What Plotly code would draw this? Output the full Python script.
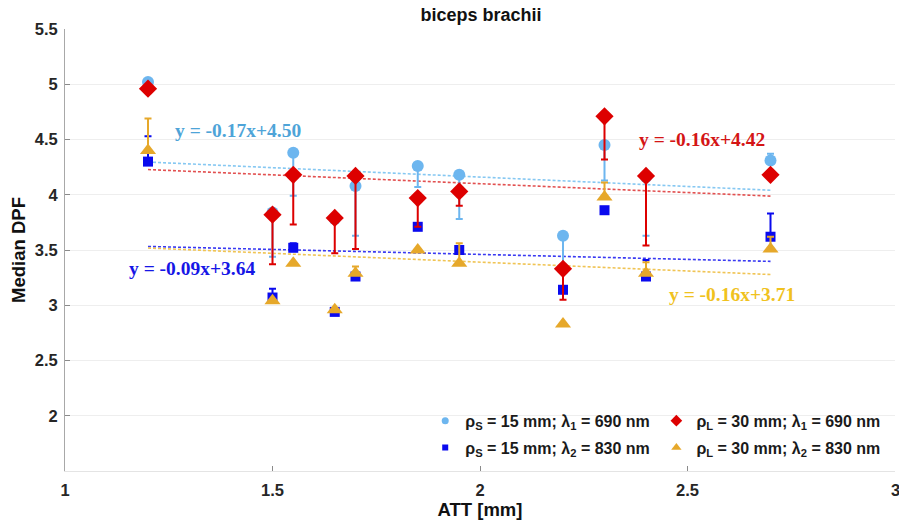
import plotly.graph_objects as go

# ATT positions of the subjects [mm]
att = [1.2, 1.5, 1.55, 1.65, 1.7, 1.85, 1.95, 2.2, 2.3, 2.4, 2.7]

# median DPF per source-detector distance / wavelength
dpf_s_690 = [5.02, 3.84, 4.38, 3.78, 4.08, 4.26, 4.18, 3.63, 4.45, 4.16, 4.31]
dpf_s_830 = [4.30, 3.07, 3.52, 2.94, 3.26, 3.71, 3.50, 3.14, 3.86, 3.26, 3.62]
dpf_l_690 = [4.96, 3.82, 4.18, 3.79, 4.17, 3.97, 4.03, 3.33, 4.71, 4.17, 4.18]
dpf_l_830 = [4.40, 3.04, 3.38, 2.96, 3.29, 3.50, 3.38, 2.83, 3.98, 3.29, 3.51]

# asymmetric error bars (upper, lower)
err_s_690_up = [0, 0, 0, 0, 0, 0, 0, 0, 0, 0, 0.06]
err_s_690_dn = [0, 0.40, 0.39, 0, 0.45, 0.19, 0.40, 0.28, 0.32, 0.53, 0]
err_s_830_up = [0.23, 0.08, 0.04, 0, 0, 0, 0.03, 0, 0, 0.15, 0.21]
err_s_830_dn = [0] * 11
err_l_690_up = [0] * 11
err_l_690_dn = [0, 0.45, 0.45, 0.32, 0.66, 0.26, 0.13, 0.28, 0.39, 0.63, 0]
err_l_830_up = [0.29, 0, 0, 0, 0.06, 0, 0.18, 0, 0.13, 0.10, 0.11]
err_l_830_dn = [0] * 11

# linear fits: slope, intercept
fit_s_690 = [-0.17, 4.50]
fit_s_830 = [-0.09, 3.64]
fit_l_690 = [-0.16, 4.42]
fit_l_830 = [-0.16, 3.71]

series_names = [
    "ρ<sub>S</sub> = 15 mm; λ<sub>1</sub> = 690 nm",
    "ρ<sub>S</sub> = 15 mm; λ<sub>2</sub> = 830 nm",
    "ρ<sub>L</sub> = 30 mm; λ<sub>1</sub> = 690 nm",
    "ρ<sub>L</sub> = 30 mm; λ<sub>2</sub> = 830 nm",
]

C_LB, C_B, C_R, C_O = "#6db6ef", "#0a0aee", "#dd0000", "#e6a82a"

fig = go.Figure()

# dotted regression lines
fit_specs = [
    (fit_s_690, "#86c8f2"),
    (fit_l_690, "#e25050"),
    (fit_s_830, "#3a3af2"),
    (fit_l_830, "#f0c454"),
]
x0, x1 = min(att), max(att)
for (m, b), col in fit_specs:
    fig.add_trace(go.Scatter(
        x=[x0, x1], y=[m * x0 + b, m * x1 + b], mode="lines",
        line=dict(color=col, width=1.6, dash="3px,2px"),
        showlegend=False, hoverinfo="skip"))

def add_series(y, up, dn, color, symbol, size, name, legend):
    # data markers with one-sided error bars
    fig.add_trace(go.Scatter(
        x=att, y=y, mode="markers", showlegend=False,
        marker=dict(color=color, symbol=symbol, size=size,
                    line=dict(width=0)),
        error_y=dict(type="data", symmetric=False, array=up, arrayminus=dn,
                     color=color, thickness=2, width=3.5),
    ))
    # small legend key
    fig.add_trace(go.Scatter(
        x=[None], y=[None], mode="markers", name=name, legend=legend,
        legendgroup=name,
        marker=dict(color=color, symbol=symbol, size=max(size - 5, 6),
                    line=dict(width=0)),
    ))

add_series(dpf_s_690, err_s_690_up, err_s_690_dn, C_LB, "circle", 12,
           series_names[0], "legend")
add_series(dpf_s_830, err_s_830_up, err_s_830_dn, C_B, "square", 10,
           series_names[1], "legend")
add_series(dpf_l_690, err_l_690_up, err_l_690_dn, C_R, "diamond", 14,
           series_names[2], "legend2")
add_series(dpf_l_830, err_l_830_up, err_l_830_dn, C_O, "triangle-up", 14,
           series_names[3], "legend2")

# fit equations
eq_specs = [
    (fit_s_690, 1.26, 4.58, "#4ea4d8"),
    (fit_s_830, 1.149, 3.335, "#1616e6"),
    (fit_l_690, 2.378, 4.50, "#d41515"),
    (fit_l_830, 2.45, 3.10, "#f0c21e"),
]
for (m, b), ex, ey, col in eq_specs:
    fig.add_annotation(
        x=ex, y=ey, xref="x", yref="y", xanchor="left", yanchor="middle",
        text=f"<b>y = {m:.2f}x+{b:.2f}</b>", showarrow=False,
        font=dict(family="Liberation Serif", size=19.5, color=col))

tick_font = dict(family="Liberation Sans", size=16.5, color="#262626")

# last x tick label sits on the figure edge
fig.add_annotation(x=3, y=0, xref="x", yref="paper", yshift=-19,
                   xanchor="center", yanchor="middle", showarrow=False,
                   text="<b>3</b>",
                   font=dict(family="Liberation Sans", size=16.5,
                             color="#262626", weight="bold"))

legend_common = dict(
    bgcolor="rgba(255,255,255,0)", borderwidth=0,
    font=dict(family="Liberation Sans", size=16, color="#1a1a1a",
              weight="bold"),
    tracegroupgap=3, yanchor="top", xanchor="left",
    itemsizing="trace",
)

axis_title_font = dict(family="Liberation Sans", size=18.5, color="#111111")

fig.update_layout(
    width=899, height=523,
    margin=dict(l=65, r=4, t=29, b=52),
    paper_bgcolor="white", plot_bgcolor="white",
    title=dict(text="<b>biceps brachii</b>", x=0.535, xanchor="center",
               y=1 - 15 / 523, yanchor="middle",
               font=dict(family="Liberation Sans", size=18, color="#111111")),
    xaxis=dict(
        range=[1, 3], tickvals=[1, 1.5, 2, 2.5, 3],
        ticktext=["<b>1</b>", "<b>1.5</b>", "<b>2</b>", "<b>2.5</b>", "<b>3</b>"],
        showgrid=False, zeroline=False,
        showline=True, linecolor="#e4e4e4", linewidth=1,
        ticks="inside", ticklen=5, tickcolor="#8a8a8a",
        tickfont=tick_font, ticklabelstandoff=4,
        title=dict(text="<b>ATT [mm]</b>", standoff=2, font=axis_title_font),
    ),
    yaxis=dict(
        range=[1.5, 5.5], tickvals=[2, 2.5, 3, 3.5, 4, 4.5, 5, 5.5],
        ticktext=["<b>2</b>", "<b>2.5</b>", "<b>3</b>", "<b>3.5</b>",
                  "<b>4</b>", "<b>4.5</b>", "<b>5</b>", "<b>5.5</b>"],
        showgrid=True, gridcolor="#eeeeee", gridwidth=1, zeroline=False,
        showline=True, linecolor="#a8a8a8", linewidth=1,
        ticks="inside", ticklen=5, tickcolor="#8a8a8a",
        tickfont=tick_font, ticklabelstandoff=3,
        title=dict(text="<b>Median DPF</b>", standoff=4, font=axis_title_font),
    ),
    legend=dict(x=0.434, y=0.152, **legend_common),
    legend2=dict(x=0.7125, y=0.152, **legend_common),
)

fig.write_html("out.html")
